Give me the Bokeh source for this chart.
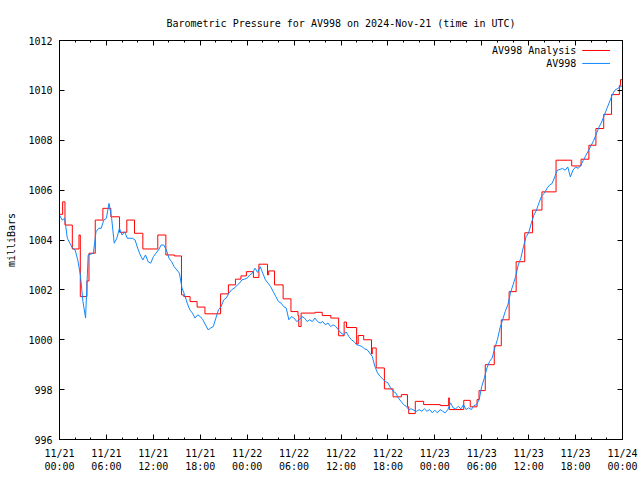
from bokeh.plotting import figure
from bokeh.models import FixedTicker, LinearAxis, Range1d, Label, Arrow, CustomLabelingPolicy
from bokeh.embed import file_html
from bokeh.resources import INLINE

TITLE = "Barometric Pressure for AV998 on 2024-Nov-21 (time in UTC)"

# hours since 2024-11-21 00:00 UTC
x_tick_hours = [0, 6, 12, 18, 24, 30, 36, 42, 48, 54, 60, 66, 72]
x_tick_labels = ["11/21\n00:00", "11/21\n06:00", "11/21\n12:00", "11/21\n18:00",
                 "11/22\n00:00", "11/22\n06:00", "11/22\n12:00", "11/22\n18:00",
                 "11/23\n00:00", "11/23\n06:00", "11/23\n12:00", "11/23\n18:00",
                 "11/24\n00:00"]
y_ticks = [996, 998, 1000, 1002, 1004, 1006, 1008, 1010, 1012]

# AV998 Analysis (stepped): change times (h) and values (mb)
red_hours = [0, 0.4, 0.7, 1.64, 2.49, 2.66, 3.51, 3.77, 4.57, 5.55, 6.57, 7.68, 8.61,
             9.59, 10.66, 12.57, 13.6, 14.7, 15.6, 15.9, 16.7, 17.6, 18.6, 20.6, 21.6,
             22.5, 23.2, 23.9, 24.8, 25.5, 26.6, 26.75, 27.5, 28.6, 29.6, 30.5, 30.6,
             30.9, 32.7, 33.6, 34.7, 35.7, 36.4, 36.7, 38.0, 38.2, 38.9, 39.9, 40.0,
             40.5, 41.55, 42.66, 43.72, 44.5, 44.66, 45.5, 46.57, 48.7, 49.77, 49.85,
             51.7, 52.53, 53.4, 53.65, 54.45, 55.6, 56.5, 57.5, 58.4, 59.5, 60.5, 61.7,
             63.5, 65.5, 66.7, 67.7, 68.6, 69.6, 70.6, 71.6, 71.75, 72]
red_vals = [1005.03, 1005.53, 1004.6, 1003.64, 1004.2, 1001.73, 1002.36, 1003.47, 1004.8,
            1005.27, 1004.93, 1004.31, 1004.8, 1004.27, 1003.64, 1004.2, 1003.4, 1003.36,
            1001.8, 1001.73, 1001.53, 1001.31, 1001.04, 1001.84, 1002.2, 1002.43, 1002.56,
            1002.73, 1002.5, 1003.03, 1002.6, 1002.76, 1002.2, 1001.64, 1001.13, 1000.97,
            1000.53, 1001.07, 1001.1, 1000.97, 1000.87, 1000.16, 1000.71, 1000.49, 999.83,
            1000.17, 1000.0, 999.43, 999.67, 998.87, 998.03, 997.71, 997.8, 997.31, 997.04,
            997.53, 997.4, 997.36, 997.67, 997.2, 997.57, 997.31, 997.6, 997.96, 999.0,
            999.76, 1000.8, 1001.93, 1003.13, 1004.29, 1005.2, 1005.93, 1007.2, 1006.97,
            1007.24, 1007.8, 1008.47, 1009.04, 1009.83, 1010.2, 1010.43, 1010.43]

# AV998 observations, every 20 minutes
av998_vals = [
    1005.0, 1004.8, 1004.87, 1004.07, 1003.87, 1003.67, 1003.6, 1003.2, 1002.6,
    1001.53, 1000.87, 1003.4, 1003.43, 1003.47, 1004.33, 1004.47, 1004.47, 1004.8,
    1004.87, 1005.47, 1004.87, 1003.87, 1004.07, 1004.47, 1004.2, 1004.33, 1004.07,
    1004.07, 1004.07, 1004.0, 1003.67, 1003.4, 1003.2, 1003.4, 1003.13, 1003.07,
    1003.33, 1003.47, 1003.6, 1003.8, 1003.8, 1003.6, 1003.27, 1003.13, 1002.93,
    1002.8, 1002.67, 1002.07, 1001.8, 1001.47, 1001.2, 1001.07, 1000.87, 1001.0,
    1000.93, 1000.8, 1000.6, 1000.4, 1000.47, 1000.53, 1000.87, 1001.2, 1001.33,
    1001.6, 1001.67, 1001.87, 1002.0, 1002.07, 1002.16, 1002.27, 1002.4, 1002.43,
    1002.47, 1002.6, 1002.67, 1002.87, 1002.7, 1002.93, 1002.67, 1002.4, 1002.27,
    1002.13, 1001.93, 1001.73, 1001.53, 1001.47, 1001.33, 1001.27, 1000.8, 1000.93,
    1000.87, 1000.73, 1000.8, 1000.93, 1000.87, 1000.73, 1000.8, 1000.73, 1000.87,
    1000.73, 1000.67, 1000.73, 1000.6, 1000.67, 1000.53, 1000.6, 1000.53, 1000.4,
    1000.27, 1000.2, 1000.31, 1000.13, 1000.0, 999.93, 999.8, 999.77, 999.73,
    999.64, 999.6, 999.47, 999.33, 998.93, 998.67, 998.53, 998.43, 998.33,
    998.27, 998.07, 997.93, 997.87, 997.67, 997.53, 997.4, 997.33, 997.2,
    997.23, 997.17, 997.13, 997.2, 997.13, 997.23, 997.13, 997.2, 997.07,
    997.17, 997.07, 997.2, 997.13, 997.07, 997.2, 997.47, 997.27, 997.23,
    997.33, 997.23, 997.4, 997.2, 997.27, 997.2, 997.36, 997.4, 997.6,
    998.13, 998.47, 998.87, 999.13, 999.27, 999.67, 1000.0, 1000.47, 1000.8,
    1001.13, 1001.4, 1001.87, 1002.2, 1002.53, 1003.0, 1003.27, 1003.73, 1004.13,
    1004.29, 1004.67, 1005.0, 1005.2, 1005.5, 1005.77, 1005.87, 1006.07, 1006.2,
    1006.27, 1006.53, 1006.8, 1006.83, 1006.87, 1006.8, 1006.93, 1006.53, 1006.8,
    1006.93, 1006.87, 1007.0, 1007.2, 1007.4, 1007.6, 1007.8, 1008.0, 1008.27,
    1008.53, 1008.73, 1009.0, 1009.27, 1009.53, 1009.8, 1010.0, 1010.07, 1010.13,
    1010.2]
av998_hours = [i / 3 for i in range(len(av998_vals))]

FONT = "DejaVu Sans Mono"
RED = "#ff0000"
BLUE = "#0f88ff"

p = figure(width=640, height=480, x_range=Range1d(0, 72), y_range=Range1d(996, 1012),
           output_backend="svg", toolbar_location=None,
           min_border_left=59, min_border_right=18, min_border_top=40, min_border_bottom=41)
p.title.text = TITLE
p.title.align = "center"
p.title.text_font = FONT
p.title.text_font_size = "10px"
p.title.text_font_style = "normal"
p.title.text_color = "black"
p.title.standoff = 16
p.grid.visible = False
p.outline_line_color = "black"
p.outline_line_alpha = 1

p.step(red_hours, red_vals, mode="after", line_color=RED, line_width=1)
p.line(av998_hours, av998_vals, line_color=BLUE, line_width=1)

x_ticker = FixedTicker(ticks=x_tick_hours, minor_ticks=list(range(0, 73, 2)))
y_ticker = FixedTicker(ticks=y_ticks, minor_ticks=[])

def style_axis(ax):
    ax.axis_line_color = "black"
    ax.major_tick_in = 5
    ax.major_tick_out = 0
    ax.minor_tick_in = 2
    ax.minor_tick_out = 0
    ax.major_tick_line_color = "black"
    ax.minor_tick_line_color = "black"
    ax.major_label_text_font = FONT
    ax.major_label_text_font_size = "10px"
    ax.major_label_text_color = "black"
    ax.axis_label_text_font = FONT
    ax.axis_label_text_font_size = "10px"
    ax.axis_label_text_font_style = "normal"
    ax.axis_label_text_color = "black"

xa = p.xaxis[0]
xa.ticker = x_ticker
xa.major_label_overrides = dict(zip(x_tick_hours, x_tick_labels))
style_axis(xa)
xa.major_label_standoff = 8

ya = p.yaxis[0]
ya.ticker = y_ticker
ya.axis_label = "milliBars"
style_axis(ya)
ya.major_label_standoff = 7
ya.axis_label_standoff = 8

HIDE_CODE = """
for (const i of indices) { indices.unset(i) }
return indices
"""

top = LinearAxis(ticker=x_ticker, major_label_policy=CustomLabelingPolicy(code=HIDE_CODE))
style_axis(top)
top.major_label_text_font_size = "1px"
top.major_label_standoff = 0
p.add_layout(top, "above")

right = LinearAxis(ticker=y_ticker, major_label_policy=CustomLabelingPolicy(code=HIDE_CODE))
style_axis(right)
right.major_label_text_font_size = "1px"
right.major_label_standoff = 0
p.add_layout(right, "right")

# key (gnuplot style: label then sample line)
for label, color, yk in [("AV998 Analysis", RED, 1011.6), ("AV998", BLUE, 1011.08)]:
    p.add_layout(Label(x=66.1, y=yk, text=label, text_align="right", text_baseline="middle",
                       text_font=FONT, text_font_size="10px", text_color="black"))
    p.add_layout(Arrow(x_start=66.85, y_start=yk, x_end=70.4, y_end=yk, end=None,
                       line_color=color, line_width=1))

open("out.html", "w").write(file_html(p, INLINE))
